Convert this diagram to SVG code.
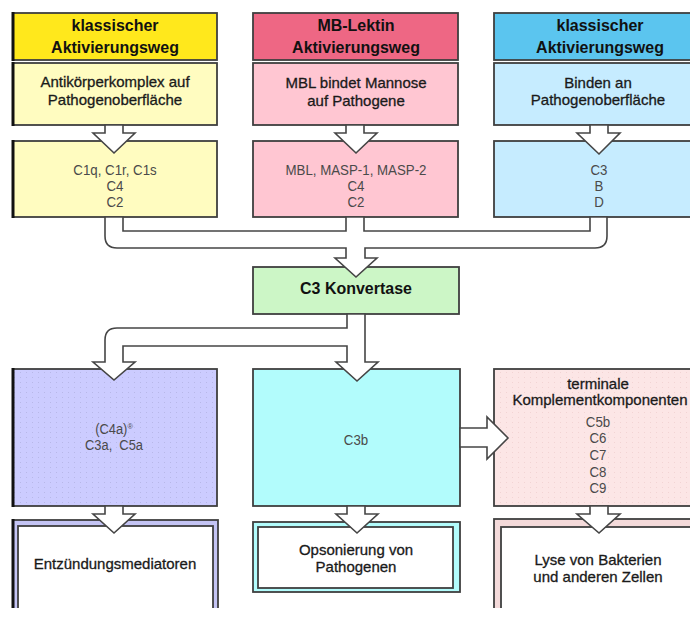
<svg xmlns="http://www.w3.org/2000/svg" width="690" height="617" viewBox="0 0 690 617">
  <defs>
    <style>
      .box { stroke: #3f3f3f; stroke-width: 1.8; }
      .edge { stroke: #111; stroke-width: 3; }
      .pipe { fill: #ffffff; stroke: #454545; stroke-width: 1.6; stroke-linejoin: miter; }
      text { font-family: "Liberation Sans", Arial, sans-serif; text-anchor: middle; }
      .hd { font-size: 17px; font-weight: bold; fill: #111; }
      .sub { font-size: 15px; fill: #1a1a1a; stroke: #1a1a1a; stroke-width: 0.3; }
      .lst { font-size: 14px; fill: #4a4a4a; }
    </style>
    <pattern id="dots" width="6" height="5" patternUnits="userSpaceOnUse">
      <rect x="2" y="2" width="1" height="1" fill="#b8b8e8"/>
    </pattern>
    <pattern id="dotsPink" width="6" height="5" patternUnits="userSpaceOnUse">
      <rect x="2" y="2" width="1" height="1" fill="#f2d4d4"/>
    </pattern>
    <clipPath id="page">
      <rect x="0" y="0" width="690" height="608"/>
    </clipPath>
  </defs>

  <!-- classical pathway column -->
  <g id="klassisch-kopf">
    <rect class="box" x="13" y="13" width="204" height="47" fill="#ffe81c"/>
    <line class="edge" x1="13" y1="12" x2="13" y2="61"/>
    <text class="hd" transform="translate(115,31) scale(0.94,1)">klassischer</text>
    <text class="hd" transform="translate(115,53) scale(0.94,1)">Aktivierungsweg</text>
  </g>
  <g id="klassisch-ausloeser">
    <rect class="box" x="13" y="63" width="204" height="62" fill="#fffcc0"/>
    <line class="edge" x1="13" y1="62" x2="13" y2="126"/>
    <text class="sub" x="115" y="87">Antikörperkomplex auf</text>
    <text class="sub" x="115" y="105">Pathogenoberfläche</text>
  </g>
  <g id="klassisch-komponenten">
    <rect class="box" x="13" y="141" width="204" height="76" fill="#fffcc0"/>
    <line class="edge" x1="13" y1="140" x2="13" y2="218"/>
    <text class="lst" transform="translate(115,175) scale(0.95,1)">C1q, C1r, C1s</text>
    <text class="lst" transform="translate(115,191) scale(0.95,1)">C4</text>
    <text class="lst" transform="translate(115,207) scale(0.95,1)">C2</text>
  </g>

  <!-- MB-lectin pathway column -->
  <g id="lektin-kopf">
    <rect class="box" x="253" y="13" width="205" height="47" fill="#ee6784"/>
    <text class="hd" transform="translate(356,31) scale(0.94,1)">MB-Lektin</text>
    <text class="hd" transform="translate(356,53) scale(0.94,1)">Aktivierungsweg</text>
  </g>
  <g id="lektin-ausloeser">
    <rect class="box" x="253" y="63" width="205" height="62" fill="#ffc6d2"/>
    <text class="sub" x="356" y="88">MBL bindet Mannose</text>
    <text class="sub" x="356" y="106">auf Pathogene</text>
  </g>
  <g id="lektin-komponenten">
    <rect class="box" x="253" y="141" width="205" height="76" fill="#ffc6d2"/>
    <text class="lst" transform="translate(356,175) scale(0.95,1)">MBL, MASP-1, MASP-2</text>
    <text class="lst" transform="translate(356,191) scale(0.95,1)">C4</text>
    <text class="lst" transform="translate(356,207) scale(0.95,1)">C2</text>
  </g>

  <!-- third pathway column -->
  <g id="rechts-kopf">
    <rect class="box" x="494" y="13" width="220" height="47" fill="#5bc5ef"/>
    <text class="hd" transform="translate(600,31) scale(0.94,1)">klassischer</text>
    <text class="hd" transform="translate(600,53) scale(0.94,1)">Aktivierungsweg</text>
  </g>
  <g id="rechts-ausloeser">
    <rect class="box" x="494" y="63" width="220" height="62" fill="#c6ecff"/>
    <text class="sub" x="598" y="88">Binden an</text>
    <text class="sub" x="598" y="105">Pathogenoberfläche</text>
  </g>
  <g id="rechts-komponenten">
    <rect class="box" x="494" y="141" width="220" height="76" fill="#c6ecff"/>
    <text class="lst" transform="translate(599,175) scale(0.95,1)">C3</text>
    <text class="lst" transform="translate(599,191) scale(0.95,1)">B</text>
    <text class="lst" transform="translate(599,207) scale(0.95,1)">D</text>
  </g>

  <!-- C3 convertase -->
  <g id="c3-konvertase">
    <rect class="box" x="253" y="267" width="206" height="47" fill="#ccf6c6"/>
    <text class="hd" transform="translate(356,294) scale(0.94,1)">C3 Konvertase</text>
  </g>

  <!-- effector components -->
  <g id="anaphylatoxine">
    <rect class="box" x="13" y="369" width="204" height="137" fill="#ccccff"/>
    <rect x="14" y="370" width="202" height="135" fill="url(#dots)"/>
    <line class="edge" x1="13" y1="368" x2="13" y2="507"/>
    <text class="lst" transform="translate(114,434) scale(0.92,1)">(C4a)<tspan font-size="8" dy="-5">®</tspan></text>
    <text class="lst" transform="translate(114,450) scale(0.92,1)" style="white-space:pre">C3a,  C5a</text>
  </g>
  <g id="c3b">
    <rect class="box" x="253" y="369" width="207" height="137" fill="#b2fcfc"/>
    <text class="lst" transform="translate(356,445) scale(0.95,1)" fill="#2a5f72">C3b</text>
  </g>
  <g id="terminale-komponenten">
    <rect class="box" x="494" y="369" width="220" height="137" fill="#fce6e6"/>
    <rect x="495" y="370" width="200" height="135" fill="url(#dotsPink)"/>
    <text class="sub" x="598" y="389">terminale</text>
    <text class="sub" x="600" y="405">Komplementkomponenten</text>
    <text class="lst" transform="translate(598,427) scale(0.95,1)">C5b</text>
    <text class="lst" transform="translate(598,443) scale(0.95,1)">C6</text>
    <text class="lst" transform="translate(598,460) scale(0.95,1)">C7</text>
    <text class="lst" transform="translate(598,477) scale(0.95,1)">C8</text>
    <text class="lst" transform="translate(598,493) scale(0.95,1)">C9</text>
  </g>

  <!-- outcomes -->
  <g id="entzuendung" clip-path="url(#page)">
    <rect class="box" x="13" y="520" width="205" height="110" fill="#c4c4f4"/>
    <rect class="box" x="18" y="526" width="195" height="110" fill="#ffffff"/>
    <line class="edge" x1="13" y1="519" x2="13" y2="630"/>
    <text class="sub" x="115" y="569">Entzündungsmediatoren</text>
  </g>
  <g id="opsonierung">
    <rect class="box" x="253" y="522" width="207" height="70" fill="#b2fcfc"/>
    <rect class="box" x="258" y="527" width="195" height="61" fill="#ffffff"/>
    <text class="sub" x="356" y="555">Opsonierung von</text>
    <text class="sub" x="356" y="572">Pathogenen</text>
  </g>
  <g id="lyse" clip-path="url(#page)">
    <rect class="box" x="494" y="519" width="220" height="110" fill="#f4dada"/>
    <rect class="box" x="501" y="527" width="210" height="110" fill="#ffffff"/>
    <text class="sub" x="598" y="565">Lyse von Bakterien</text>
    <text class="sub" x="598" y="582">und anderen Zellen</text>
  </g>

  <!-- block-arrow connectors -->
  <g id="connectors">
    <path class="pipe" d="M105,125 V133 H93 L114,153 L135,133 H123 V125 Z"/>
    <path class="pipe" d="M346,125 V133 H335 L356,153 L377,133 H364 V125 Z"/>
    <path class="pipe" d="M590,125 V133 H577 L599,154 L620,133 H608 V125 Z"/>

    <path class="pipe" d="M105,217 V236 Q105,248 117,248 H346 V258 H335 L356,277 L377,258 H365 V248 H595 Q607,248 607,236 V217 H590 V231 H364 V217 H346 V231 H123 V217 Z"/>

    <path class="pipe" d="M347,314 V328 H117 Q105,328 105,340 V362 H93 L114,380 L135,362 H123 V346 H347 V362 H336 L357,381 L378,362 H365 V314 Z"/>

    <path class="pipe" d="M460,428 H487 V417 L508,438 L487,459 V447 H460 Z"/>

    <path class="pipe" d="M105,506 V514 H93 L114,533 L135,514 H123 V506 Z"/>
    <path class="pipe" d="M347,506 V514 H336 L357,533 L378,514 H365 V506 Z"/>
    <path class="pipe" d="M590,506 V514 H577 L599,533 L620,514 H608 V506 Z"/>
  </g>
</svg>
